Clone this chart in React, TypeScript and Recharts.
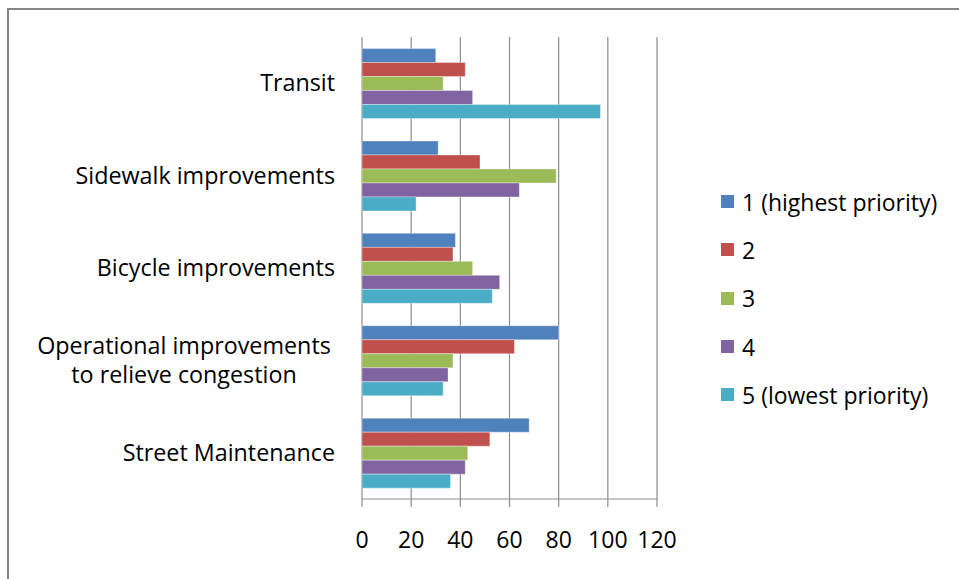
import React from "react";
import { BarChart, Bar, XAxis, YAxis, CartesianGrid, Legend } from "recharts";

const categories = [
  "Transit",
  "Sidewalk improvements",
  "Bicycle improvements",
  "Operational improvements\nto relieve congestion",
  "Street Maintenance",
];
const priority1 = [30, 31, 38, 80, 68];
const priority2 = [42, 48, 37, 62, 52];
const priority3 = [33, 79, 45, 37, 43];
const priority4 = [45, 64, 56, 35, 42];
const priority5 = [97, 22, 53, 33, 36];
const seriesNames = ["1 (highest priority)", "2", "3", "4", "5 (lowest priority)"];
const seriesColors = ["#4F81BD", "#C0504D", "#9BBB59", "#8064A2", "#4BACC6"];
const xTicks = [0, 20, 40, 60, 80, 100, 120];
const bandTicks = [0, 1, 2, 3, 4, 5];

const seriesValues = [priority1, priority2, priority3, priority4, priority5];
const data = categories.map((name, i) => {
  const row: Record<string, string | number> = { name };
  seriesValues.forEach((vals, s) => {
    row["p" + (s + 1)] = vals[i];
  });
  return row;
});

const FONT = "'Open Sans', Lato, sans-serif";
const GRID = "#8c8c8c";
const FS = 23.3;

function CategoryTick(props: any) {
  const { x, y, payload } = props;
  const lines = String(payload.value).split("\n");
  if (lines.length === 1) {
    return (
      <text x={x} y={y} dy="0.35em" textAnchor="end" fontSize={FS} fontFamily={FONT} fill="#000">
        {lines[0]}
      </text>
    );
  }
  const lh = 29;
  const top = y - ((lines.length - 1) * lh) / 2;
  return (
    <text x={x - 151} y={top} textAnchor="middle" fontSize={FS} fontFamily={FONT} fill="#000">
      {lines.map((l, i) => (
        <tspan key={i} x={x - 151} y={top + i * lh} dy="0.35em">
          {l}
        </tspan>
      ))}
    </text>
  );
}

function LegendBox() {
  return (
    <div style={{ fontFamily: FONT, fontSize: 23, color: "#000" }}>
      {seriesNames.map((n, i) => (
        <div key={n} style={{ height: 48.3, display: "flex", alignItems: "center" }}>
          <span
            style={{
              display: "inline-block",
              width: 13,
              height: 13,
              background: seriesColors[i],
              marginRight: 8,
            }}
          />
          <span>{n}</span>
        </div>
      ))}
    </div>
  );
}

export default function App() {
  return (
    <div style={{ position: "fixed", left: 0, top: 0, width: 959, height: 579, background: "#fff" }}>
      <div
        style={{
          position: "absolute",
          left: 7,
          top: 8,
          width: 970,
          height: 590,
          borderLeft: "2px solid #878787",
          borderTop: "2px solid #878787",
        }}
      />
      <div style={{ position: "absolute", left: 0, top: 0 }}>
        <BarChart
          width={959}
          height={579}
          data={data}
          layout="vertical"
          margin={{ top: 37, right: 302, bottom: 0, left: 0 }}
          barCategoryGap="12.5%"
          barGap={0}
        >
          <CartesianGrid horizontal={false} stroke={GRID} strokeWidth={1.2} />
          <XAxis
            type="number"
            domain={[0, 120]}
            ticks={xTicks}
            interval={0}
            height={80}
            tickSize={8}
            tickMargin={25}
            axisLine={{ stroke: GRID, strokeWidth: 1.2 }}
            tickLine={{ stroke: GRID, strokeWidth: 1.2 }}
            tick={{ fill: "#000", fontSize: 23, fontFamily: FONT }}
          />
          <YAxis
            type="category"
            dataKey="name"
            width={362}
            tickSize={0}
            tickMargin={27}
            axisLine={false}
            tickLine={false}
            interval={0}
            tick={<CategoryTick />}
          />
          <YAxis
            yAxisId="band"
            type="number"
            domain={[0, 5]}
            ticks={bandTicks}
            width={0}
            tick={false}
            tickSize={8}
            axisLine={{ stroke: GRID, strokeWidth: 1.2 }}
            tickLine={{ stroke: GRID, strokeWidth: 1.2 }}
          />
          {seriesNames.map((n, i) => (
            <Bar
              key={n}
              dataKey={"p" + (i + 1)}
              name={n}
              fill={seriesColors[i]}
              stroke="rgba(255,255,255,0.35)"
              strokeWidth={1}
              isAnimationActive={false}
            />
          ))}
          <Legend
            layout="vertical"
            align="center"
            verticalAlign="middle"
            content={<LegendBox />}
            wrapperStyle={{ position: "absolute", left: 721, top: 177.5, width: 238 }}
          />
        </BarChart>
      </div>
    </div>
  );
}
